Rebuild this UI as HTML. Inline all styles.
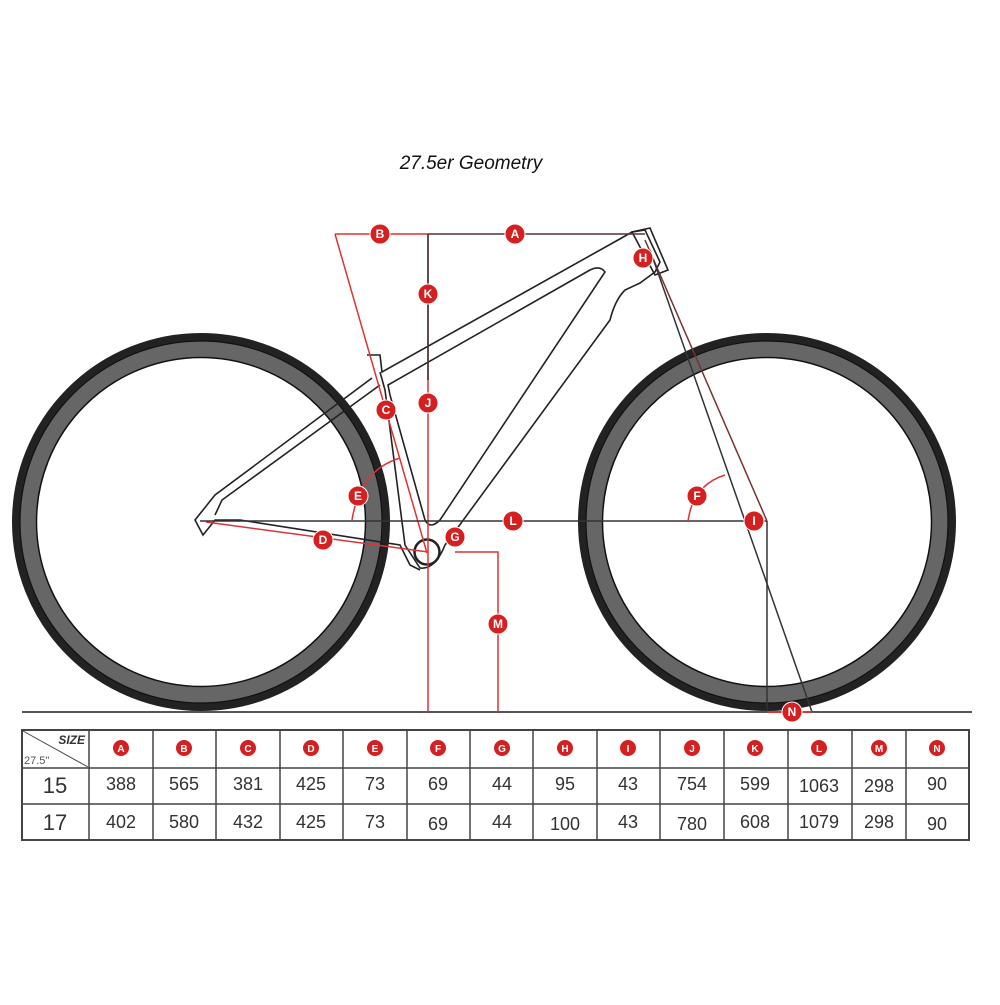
<!DOCTYPE html>
<html><head><meta charset="utf-8"><style>
body{margin:0;background:#fff;width:1000px;height:1000px;overflow:hidden;font-family:"Liberation Sans",sans-serif}
</style></head><body>
<svg width="1000" height="1000" viewBox="0 0 1000 1000" xmlns="http://www.w3.org/2000/svg" font-family="Liberation Sans, sans-serif">
<defs>
<g id="w">
<circle r="185" fill="none" stroke="#222" stroke-width="8"/>
<circle r="173" fill="none" stroke="#666" stroke-width="16"/>
<circle r="164.5" fill="none" stroke="#111" stroke-width="1.5"/>
<circle r="181" fill="none" stroke="#111" stroke-width="1.2"/>
</g>
</defs>
<rect width="1000" height="1000" fill="#fff"/>
<text x="471" y="169" font-size="19" font-style="italic" text-anchor="middle" fill="#111">27.5er Geometry</text>
<use href="#w" x="201" y="522"/>
<use href="#w" x="767" y="522"/>
<line x1="22" y1="712" x2="972" y2="712" stroke="#555" stroke-width="2"/>
<g fill="none" stroke="#222" stroke-width="1.6">
<path d="M367 355 L380 355 L382 372 L618 240 L632 232 L645 230 L660 262 L655 272 L640 283 L625 290 Q615 300 610 320 L445 545 Q435 570 420 568 L405 545 L385 390 L380 372"/>
<path d="M388 385 L590 270 Q600 265 605 272 L440 520 Q430 530 425 520 L390 395 Z"/>
<path d="M372 378 L215 495 L195 520 L203 535 L215 520 L240 520 L400 545 L410 565 L420 570"/>
<path d="M380 385 L222 500 L215 515"/>
<path d="M632 232 L650 228 L668 270 L655 275 Z"/>
<circle cx="427" cy="552" r="12.5" stroke-width="2.5"/>
</g>
<g fill="none" stroke-width="1.5">
<line x1="335" y1="234" x2="428" y2="234" stroke="#d33"/>
<line x1="428" y1="234" x2="645" y2="234" stroke="#533"/>
<line x1="335" y1="234" x2="427" y2="553" stroke="#d33"/>
<line x1="428" y1="234" x2="428" y2="712" stroke="#d33"/>
<line x1="428" y1="234" x2="428" y2="380" stroke="#333"/>
<line x1="206" y1="522" x2="428" y2="552" stroke="#d33"/>
<line x1="428" y1="521" x2="767" y2="521" stroke="#333"/>
<line x1="200" y1="521" x2="428" y2="521" stroke="#333"/>
<polyline points="455,552 498,552 498,712" stroke="#d33"/>
<line x1="645" y1="240" x2="767" y2="521" stroke="#733"/>
<line x1="650" y1="250" x2="812" y2="712" stroke="#333"/>
<line x1="767" y1="521" x2="767" y2="712" stroke="#333"/>
<line x1="767" y1="712" x2="812" y2="712" stroke="#d33" stroke-width="2"/>
<path d="M352 520 Q360 470 400 458" stroke="#d33"/>
<path d="M688 521 Q693 485 725 475" stroke="#d33"/>
</g>
<g fill="#d42020" stroke="#fff" stroke-width="1">
<circle cx="380" cy="234" r="10"/><circle cx="515" cy="234" r="10"/>
<circle cx="428" cy="294" r="10"/><circle cx="428" cy="403" r="10"/>
<circle cx="386" cy="410" r="10"/><circle cx="358" cy="496" r="10"/>
<circle cx="323" cy="540" r="10"/><circle cx="455" cy="537" r="10"/>
<circle cx="513" cy="521" r="10"/><circle cx="498" cy="624" r="10"/>
<circle cx="643" cy="258" r="10"/><circle cx="697" cy="496" r="10"/>
<circle cx="754" cy="521" r="10"/><circle cx="792" cy="712" r="10"/>
</g>
<g fill="#fff" font-size="12" font-weight="bold" text-anchor="middle">
<text x="380" y="238">B</text><text x="515" y="238">A</text>
<text x="428" y="298">K</text><text x="428" y="407">J</text>
<text x="386" y="414">C</text><text x="358" y="500">E</text>
<text x="323" y="544">D</text><text x="455" y="541">G</text>
<text x="513" y="525">L</text><text x="498" y="628">M</text>
<text x="643" y="262">H</text><text x="697" y="500">F</text>
<text x="754" y="525">I</text><text x="792" y="716">N</text>
</g>
<g stroke="#444" stroke-width="1.5" fill="none">
<rect x="22" y="730" width="947" height="110" stroke-width="2"/>
<line x1="22" y1="768" x2="969" y2="768"/><line x1="22" y1="804" x2="969" y2="804"/>
<line x1="89" y1="730" x2="89" y2="840"/><line x1="153" y1="730" x2="153" y2="840"/>
<line x1="216" y1="730" x2="216" y2="840"/><line x1="280" y1="730" x2="280" y2="840"/>
<line x1="343" y1="730" x2="343" y2="840"/><line x1="407" y1="730" x2="407" y2="840"/>
<line x1="470" y1="730" x2="470" y2="840"/><line x1="533" y1="730" x2="533" y2="840"/>
<line x1="597" y1="730" x2="597" y2="840"/><line x1="660" y1="730" x2="660" y2="840"/>
<line x1="724" y1="730" x2="724" y2="840"/><line x1="788" y1="730" x2="788" y2="840"/>
<line x1="852" y1="730" x2="852" y2="840"/><line x1="906" y1="730" x2="906" y2="840"/>
<line x1="23" y1="731" x2="88" y2="767" stroke-width="1"/>
</g>
<text x="85" y="744" font-size="12" font-weight="bold" font-style="italic" fill="#333" text-anchor="end">SIZE</text>
<text x="24" y="764" font-size="11" fill="#555">27.5"</text>
<g fill="#d42020">
<circle cx="121" cy="748" r="8"/><circle cx="184" cy="748" r="8"/><circle cx="248" cy="748" r="8"/><circle cx="311" cy="748" r="8"/><circle cx="375" cy="748" r="8"/><circle cx="438" cy="748" r="8"/><circle cx="502" cy="748" r="8"/><circle cx="565" cy="748" r="8"/><circle cx="628" cy="748" r="8"/><circle cx="692" cy="748" r="8"/><circle cx="755" cy="748" r="8"/><circle cx="819" cy="748" r="8"/><circle cx="879" cy="748" r="8"/><circle cx="937" cy="748" r="8"/>
</g>
<g fill="#fff" font-size="10" font-weight="bold" text-anchor="middle">
<text x="121" y="752">A</text><text x="184" y="752">B</text><text x="248" y="752">C</text><text x="311" y="752">D</text><text x="375" y="752">E</text><text x="438" y="752">F</text><text x="502" y="752">G</text><text x="565" y="752">H</text><text x="628" y="752">I</text><text x="692" y="752">J</text><text x="755" y="752">K</text><text x="819" y="752">L</text><text x="879" y="752">M</text><text x="937" y="752">N</text>
</g>
<g fill="#333" font-size="18" text-anchor="middle">
<text x="55" y="793" font-size="22">15</text><text x="55" y="830" font-size="22">17</text>
<text x="121" y="790">388</text><text x="184" y="790">565</text><text x="248" y="790">381</text><text x="311" y="790">425</text><text x="375" y="790">73</text><text x="438" y="790">69</text><text x="502" y="790">44</text><text x="565" y="790">95</text><text x="628" y="790">43</text><text x="692" y="790">754</text><text x="755" y="790">599</text><text x="819" y="792">1063</text><text x="879" y="792">298</text><text x="937" y="790">90</text>
<text x="121" y="828">402</text><text x="184" y="828">580</text><text x="248" y="828">432</text><text x="311" y="828">425</text><text x="375" y="828">73</text><text x="438" y="830">69</text><text x="502" y="828">44</text><text x="565" y="830">100</text><text x="628" y="828">43</text><text x="692" y="830">780</text><text x="755" y="828">608</text><text x="819" y="828">1079</text><text x="879" y="828">298</text><text x="937" y="830">90</text>
</g>
</svg>
</body></html>
